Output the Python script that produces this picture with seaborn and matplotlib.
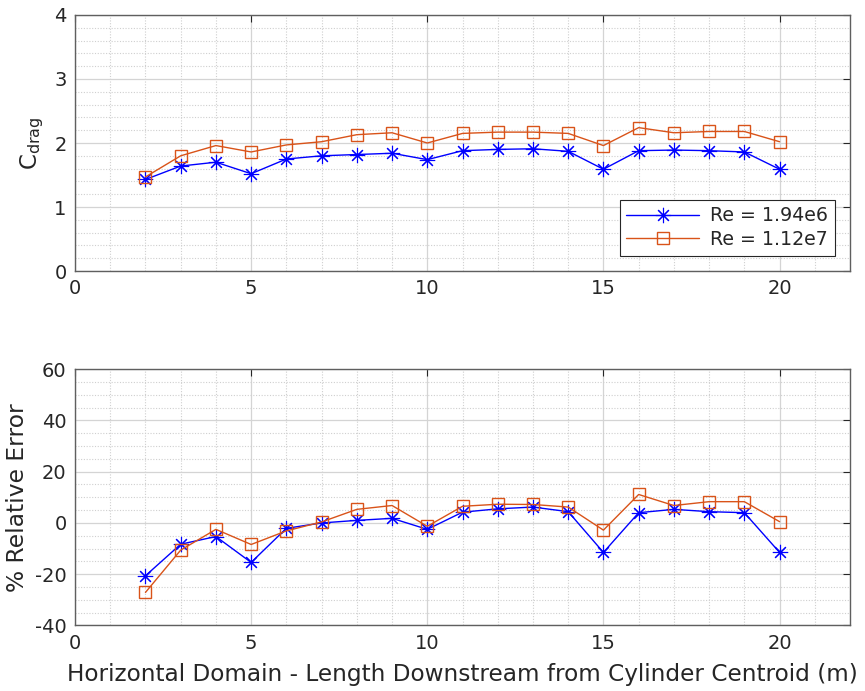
import matplotlib
matplotlib.use("Agg")
import matplotlib.pyplot as plt
from matplotlib.ticker import MultipleLocator
import numpy as np
import pandas as pd
import seaborn as sns

# Downstream distance of each probe station (m)
x_pos = [2, 3, 4, 5, 6, 7, 8, 9, 10, 11, 12, 13, 14, 15, 16, 17, 18, 19, 20]

# Drag coefficient at each station
cd_low_re = [1.43, 1.64, 1.70, 1.52, 1.75, 1.80, 1.82, 1.84, 1.74, 1.88,
             1.90, 1.91, 1.87, 1.59, 1.88, 1.89, 1.88, 1.86, 1.59]
cd_high_re = [1.47, 1.80, 1.96, 1.86, 1.97, 2.02, 2.13, 2.16, 2.00, 2.15,
              2.17, 2.17, 2.15, 1.96, 2.24, 2.16, 2.18, 2.18, 2.02]

# Percent relative error at each station
err_low_re = [-20.6, -8.3, -5.3, -15.4, -2.1, 0.0, 1.0, 1.8, -2.5, 4.2,
              5.5, 6.2, 4.4, -11.5, 4.0, 5.3, 4.4, 4.0, -11.5]
err_high_re = [-27.1, -10.6, -2.5, -8.4, -3.1, 0.4, 5.3, 6.8, -1.3, 6.5,
               7.3, 7.2, 6.2, -2.8, 11.1, 6.8, 8.3, 8.3, 0.5]

labels = ["Re = 1.94e6", "Re = 1.12e7"]

sns.set_theme(style="white")
plt.rcParams["font.family"] = ["DejaVu Sans"]
plt.rcParams["mathtext.fontset"] = "dejavusans"
plt.rcParams["axes.unicode_minus"] = False

text_col = "#262626"
blue = "#0000ff"
orange = "#d95319"

fig = plt.figure(figsize=(8.65, 6.91), dpi=100)
ax_top = fig.add_axes([0.0867, 0.6078, 0.896, 0.3705])
ax_bot = fig.add_axes([0.0867, 0.0948, 0.896, 0.3710])

df_cd = pd.DataFrame({"x": x_pos, "low": cd_low_re, "high": cd_high_re})
df_err = pd.DataFrame({"x": x_pos, "low": err_low_re, "high": err_high_re})

star = (8, 2, 0)


def draw(ax, df):
    sns.lineplot(data=df, x="x", y="low", ax=ax, color=blue, lw=1.0,
                 marker=star, markersize=11, markeredgewidth=0.8,
                 markeredgecolor=blue, label=labels[0])
    sns.lineplot(data=df, x="x", y="high", ax=ax, color=orange, lw=1.0,
                 marker="s", markersize=9, markerfacecolor="none",
                 markeredgewidth=1.0, markeredgecolor=orange, label=labels[1])


def style_axes(ax, ymin, ymax, ymajor, yminor):
    ax.set_xlim(0, 22)
    ax.set_ylim(ymin, ymax)
    ax.xaxis.set_major_locator(MultipleLocator(5))
    ax.xaxis.set_minor_locator(MultipleLocator(1))
    ax.yaxis.set_major_locator(MultipleLocator(ymajor))
    ax.yaxis.set_minor_locator(MultipleLocator(yminor))
    ax.grid(True, which="major", color="#d4d4d4", lw=0.9, ls="-")
    ax.grid(True, which="minor", color="#cfcfcf", lw=0.8, ls=(0, (1, 1.5)))
    ax.set_axisbelow(True)
    ax.tick_params(which="major", direction="in", length=5, width=0.8,
                   colors=text_col, labelsize=14, top=True, right=True,
                   pad=6)
    ax.tick_params(which="minor", length=0)
    for sp in ax.spines.values():
        sp.set_color("#5f5f5f")
        sp.set_linewidth(1.0)
    ax.set_xlabel("")


draw(ax_top, df_cd)
style_axes(ax_top, 0, 4, 1, 0.2)
ax_top.set_ylabel(r"C$_{\mathregular{drag}}$", fontsize=16.5, color=text_col,
                  labelpad=6)
leg = ax_top.legend(loc="lower right", fontsize=13.7, frameon=True,
                    fancybox=False, edgecolor=text_col, framealpha=1,
                    handlelength=3.8, borderaxespad=0.8, labelspacing=0.25,
                    borderpad=0.35, handletextpad=0.6)
leg.get_frame().set_linewidth(0.8)

draw(ax_bot, df_err)
style_axes(ax_bot, -40, 60, 20, 5)
ax_bot.get_legend().remove()
ax_bot.set_ylabel("% Relative Error", fontsize=16.8, color=text_col,
                  labelpad=4)
ax_bot.set_xlabel("Horizontal Domain - Length Downstream from Cylinder Centroid (m)",
                  fontsize=16.7, color=text_col, labelpad=7)

fig.savefig("out.png", dpi=100)
